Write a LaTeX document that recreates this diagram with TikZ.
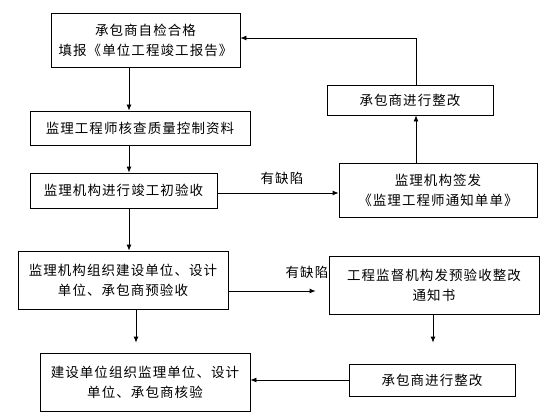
\documentclass[tikz,border=0pt]{standalone}
\usepackage{fontspec}
\newfontfamily\cjk[LetterSpace=8]{Noto Sans CJK SC}
\usetikzlibrary{arrows.meta}
\begin{document}
\begin{tikzpicture}[x=1pt,y=-1pt,
  box/.style={draw=black,line width=0.8pt,align=center,inner sep=0pt,
    font=\cjk\fontsize{13.5}{20}\selectfont},
  arr/.style={draw=black,line width=0.8pt,-{Latex[length=6pt,width=5pt]}},
  lbl/.style={font=\cjk\fontsize{13.5}{20}\selectfont,inner sep=0pt}]
\useasboundingbox[fill=white] (0,0) rectangle (560,420);
% boxes
\node[box,minimum width=189pt,minimum height=54pt] (b1) at (145.5,40) {承包商自检合格\\填报《单位工程竣工报告》};
\node[box,minimum width=220pt,minimum height=34pt] (b2) at (140,128) {监理工程师核查质量控制资料};
\node[box,minimum width=187pt,minimum height=35pt] (b3) at (123.5,190.5) {监理机构进行竣工初验收};
\node[box,minimum width=210pt,minimum height=58pt] (b4) at (123,280) {监理机构组织建设单位、设计\\单位、承包商预验收};
\node[box,minimum width=210pt,minimum height=58pt] (b5) at (434,285) {工程监督机构发预验收整改\\通知书};
\node[box,minimum width=210pt,minimum height=58pt] (b6) at (145,382) {建设单位组织监理单位、设计\\单位、承包商核验};
\node[box,minimum width=166pt,minimum height=32pt] (b7) at (432,380) {承包商进行整改};
\node[box,minimum width=166pt,minimum height=30pt] (r1) at (410,100) {承包商进行整改};
\node[box,minimum width=198pt,minimum height=54pt] (r2) at (438,190) {监理机构签发\\《监理工程师通知单单》};
% labels
\node[lbl] (l1) at (282,178) {有缺陷};
\node[lbl] (l2) at (307,272) {有缺陷};
% columns
\coordinate (cA) at (129,0);
\coordinate (cB) at (136,0);
\coordinate (cC) at (433,0);
\coordinate (cD) at (416,0);
\coordinate (rA) at (0,193);
\coordinate (rB) at (0,291);
\coordinate (rC) at (0,380);
\coordinate (rD) at (0,38);
% connectors
\draw[arr] (b1.south -| cA) -- (b2.north -| cA);
\draw[arr] (b2.south -| cA) -- (b3.north -| cA);
\draw[arr] (b3.south -| cA) -- (b4.north -| cA);
\draw[arr,shorten >=10pt] (b4.south -| cB) -- (b6.north -| cB);
\draw[arr,shorten >=13pt] (b4.east |- rB) -- (b5.west |- rB);
\draw[arr,shorten >=21pt] (b5.south -| cC) -- (b7.north -| cC);
\draw[arr] (b7.west |- rC) -- (b6.east |- rC);
\draw[arr] (b3.east |- rA) -- (r2.west |- rA);
\draw[arr] (r2.north -| cD) -- (r1.south -| cD);
\draw[arr] (r1.north -| cD) |- (b1.east |- rD);
\end{tikzpicture}
\end{document}
